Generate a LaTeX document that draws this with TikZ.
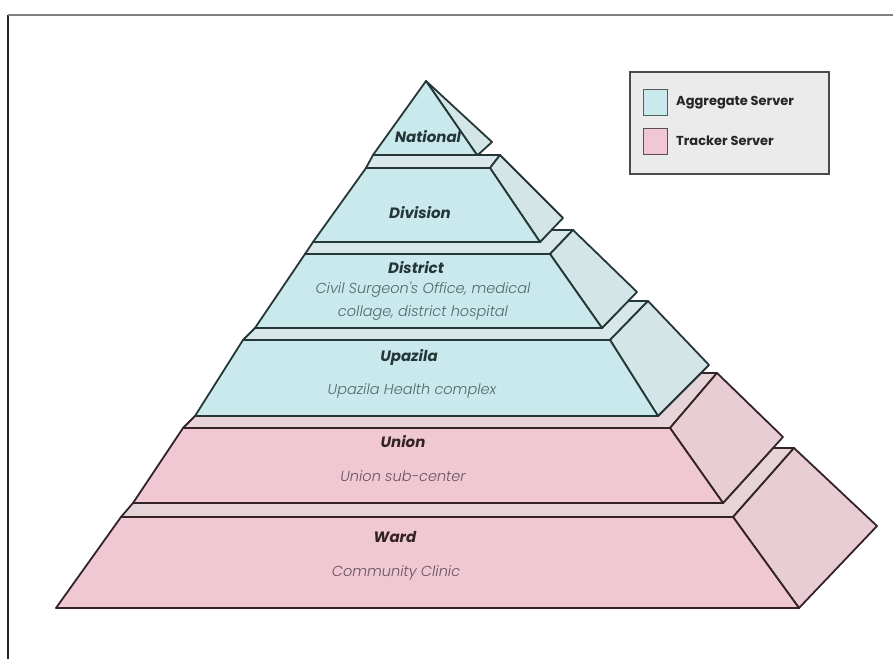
\documentclass[tikz,border=0pt]{standalone}
\usepackage{fontspec}
\setmainfont{Poppins}
\newfontfamily\tierfont{Poppins Bold Italic}
\newfontfamily\notefont{Poppins Light Italic}
\newfontfamily\keyfont{Poppins Bold}

\definecolor{aggfront}{HTML}{C9E9EC}
\definecolor{aggside}{HTML}{D3E5E7}
\definecolor{aggtop}{HTML}{D8E8EA}
\definecolor{aggedge}{HTML}{243636}
\definecolor{trkfront}{HTML}{F0C8D3}
\definecolor{trkside}{HTML}{E8CDD4}
\definecolor{trktop}{HTML}{E6D4D9}
\definecolor{trkedge}{HTML}{332327}
\definecolor{aggnote}{HTML}{4F6968}
\definecolor{trknote}{HTML}{65545A}
\definecolor{keyfill}{HTML}{EBEBEB}
\definecolor{keyedge}{HTML}{4A4A4A}

\tikzset{
  slab/.style={line width=1.8pt, line join=round},
  aggfrontface/.style={slab, fill=aggfront, draw=aggedge},
  aggsideface/.style={slab, fill=aggside, draw=aggedge},
  aggtopface/.style={slab, fill=aggtop, draw=aggedge},
  trkfrontface/.style={slab, fill=trkfront, draw=trkedge},
  trksideface/.style={slab, fill=trkside, draw=trkedge},
  trktopface/.style={slab, fill=trktop, draw=trkedge},
  tiername/.style={font=\tierfont\fontsize{15}{17}\selectfont, text=#1, inner sep=0pt},
  tiernote/.style={font=\notefont\fontsize{14.5}{23}\selectfont, text=#1, inner sep=0pt, align=center},
  swatchbox/.style={draw=#1, line width=1.6pt, minimum width=24pt, minimum height=26pt, inner sep=0pt},
  keytext/.style={font=\keyfont\fontsize{13}{15}\selectfont, text=black!85, anchor=west, inner sep=0pt},
}

\begin{document}
\begin{tikzpicture}[x=1pt, y=-1pt]
\useasboundingbox (0,0) rectangle (893,659);

% outer frame, open to the right and bottom
\draw[line width=1.4pt, draw=black!85] (8,659) -- (8,15);
\draw[line width=1.4pt, draw=black!50] (8,15) -- (893,15);

% Ward
\draw[trktopface]   (121,517) -- (733,517) -- (794,448) -- (773,448) -- (723,503) -- (133,503) -- cycle;
\draw[trksideface]  (733,517) -- (794,448) -- (877,526) -- (799,608) -- cycle;
\draw[trkfrontface] (56,608) -- (799,608) -- (733,517) -- (121,517) -- cycle;

% Union
\draw[trktopface]   (183,428) -- (670,428) -- (717,373) -- (701,373) -- (658,416) -- (195,416) -- cycle;
\draw[trksideface]  (670,428) -- (717,373) -- (783,437) -- (723,503) -- cycle;
\draw[trkfrontface] (133,503) -- (723,503) -- (670,428) -- (183,428) -- cycle;

% Upazila
\draw[aggtopface]   (243,340) -- (610,340) -- (648,301) -- (628,301) -- (602,328) -- (255,328) -- cycle;
\draw[aggsideface]  (610,340) -- (648,301) -- (709,365) -- (658,416) -- cycle;
\draw[aggfrontface] (195,416) -- (658,416) -- (610,340) -- (243,340) -- cycle;

% District
\draw[aggtopface]   (305,254) -- (550,254) -- (573,230) -- (551,230) -- (540,242) -- (313,242) -- cycle;
\draw[aggsideface]  (550,254) -- (573,230) -- (637,292) -- (602,328) -- cycle;
\draw[aggfrontface] (255,328) -- (602,328) -- (550,254) -- (305,254) -- cycle;

% Division
\draw[aggtopface]   (366,168) -- (490,168) -- (500,155) -- (477,155) -- (373,155) -- cycle;
\draw[aggsideface]  (490,168) -- (500,155) -- (563,218) -- (540,242) -- cycle;
\draw[aggfrontface] (313,242) -- (540,242) -- (490,168) -- (366,168) -- cycle;

% National
\draw[aggsideface]  (426,81) -- (492,142) -- (480,153) -- (477,155) -- cycle;
\draw[aggfrontface] (373,155) -- (477,155) -- (426,81) -- cycle;

% tier labels
\node[tiername=aggedge] (national) at (428,137) {National};
\node[tiername=aggedge] (division) at (420,213) {Division};
\node[tiername=aggedge] (district) at (416,268) {District};
\node[tiernote=aggnote] (districtnote) at (423,301) {Civil Surgeon's Office, medical\\collage, district hospital};
\node[tiername=aggedge] (upazila) at (409,357) {Upazila};
\node[tiernote=aggnote] (upazilanote) at (412,391) {Upazila Health complex};
\node[tiername=trkedge] (union) at (403,442) {Union};
\node[tiernote=trknote] (unionnote) at (403,476) {Union sub-center};
\node[tiername=trkedge] (ward) at (395,537) {Ward};
\node[tiernote=trknote] (wardnote) at (396,573) {Community Clinic};

% legend
\node[draw=keyedge, fill=keyfill, line width=1.6pt, minimum width=199pt, minimum height=102pt, inner sep=0pt] (legend) at (729.5,123) {};
\node[swatchbox=aggedge!80, fill=aggfront] (aggkey) at (655.5,102.5) {};
\node[swatchbox=trkedge!80, fill=trkfront] (trkkey) at (655.5,141.5) {};
\node[keytext] (aggtext) at (676,103) {Aggregate Server};
\node[keytext] (trktext) at (676,141) {Tracker Server};
\end{tikzpicture}
\end{document}
